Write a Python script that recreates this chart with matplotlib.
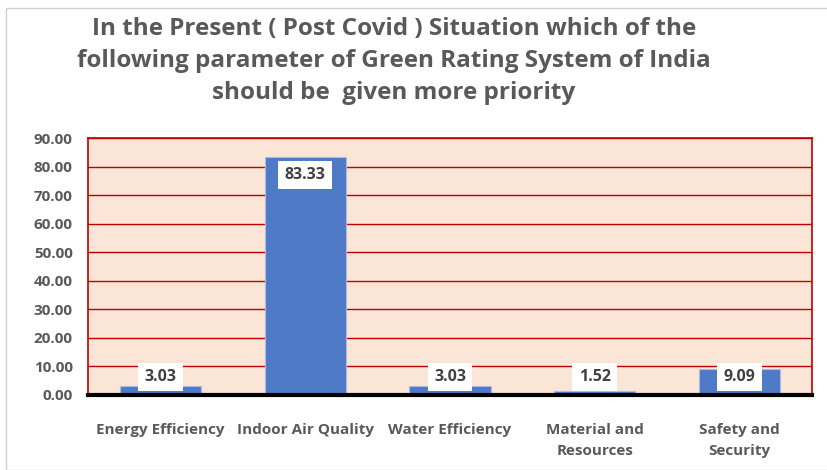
import matplotlib
matplotlib.use("Agg")
import matplotlib.pyplot as plt
from matplotlib.patches import Rectangle

# ---------------------------------------------------------------------------
# Data
# ---------------------------------------------------------------------------
CATEGORIES = [
    "Energy Efficiency",
    "Indoor Air Quality",
    "Water Efficiency",
    "Material and\nResources",
    "Safety and\nSecurity",
]
VALUES = [3.03, 83.33, 3.03, 1.52, 9.09]
Y_TICKS = [0, 10, 20, 30, 40, 50, 60, 70, 80, 90]

TITLE = ("In the Present ( Post Covid ) Situation which of the\n"
         "following parameter of Green Rating System of India\n"
         "should be  given more priority")

plt.rcParams["font.family"] = ["Open Sans", "DejaVu Sans"]

W, H = 828, 470
fig = plt.figure(figsize=(W / 100, H / 100), dpi=100)

# outer chart frame
fig.patches.append(Rectangle((6 / W, 0), 1, 1 - 8 / H, transform=fig.transFigure,
                             fill=False, edgecolor="#D0D0D0", linewidth=1.0))

ax = fig.add_axes([88 / W, 1 - 395 / H, (812 - 88) / W, (395 - 138) / H])
ax.set_facecolor("#FBE5D6")

x = range(len(CATEGORIES))
ax.bar(x, VALUES, width=0.56, color="#4F7AC7", edgecolor="#A9BCE3",
       linewidth=0.8, zorder=3)

ax.set_xlim(-0.5, len(CATEGORIES) - 0.5)
ax.set_ylim(0, 90)
ax.set_yticks(Y_TICKS)
ax.set_yticklabels([f"{t:.2f}" for t in Y_TICKS], fontsize=11,
                   fontweight="bold", color="#595959")
ax.set_xticks(list(x))
ax.set_xticklabels(CATEGORIES, fontsize=11, fontweight="bold",
                   color="#595959", linespacing=1.6, va="top")
ax.tick_params(axis="x", length=0, pad=20.5)
ax.tick_params(axis="y", length=0, pad=11)

ax.grid(axis="y", color="#C00000", linewidth=1.0, zorder=1)
ax.set_axisbelow(True)
for side in ("left", "top", "right"):
    ax.spines[side].set_color("#C00000")
    ax.spines[side].set_linewidth(1.2)
ax.spines["bottom"].set_color("black")
ax.spines["bottom"].set_linewidth(3)
ax.spines["bottom"].set_zorder(4)

# data labels: inside end, pushed up when the bar is too short
for i, v in enumerate(VALUES):
    ypos = max(v - 6.3, 6.3)
    ax.text(i, ypos, f"{v:.2f}", ha="center", va="center", fontsize=11.5,
            fontweight="bold", color="#404040", zorder=5,
            bbox=dict(boxstyle="square,pad=0.4", facecolor="white",
                      edgecolor="none"))

fig.text(394 / W, 1 - 61 / H, TITLE, ha="center", va="center", fontsize=17.5,
         fontweight="bold", color="#595959", linespacing=1.42)

fig.savefig("out.png", dpi=100)
